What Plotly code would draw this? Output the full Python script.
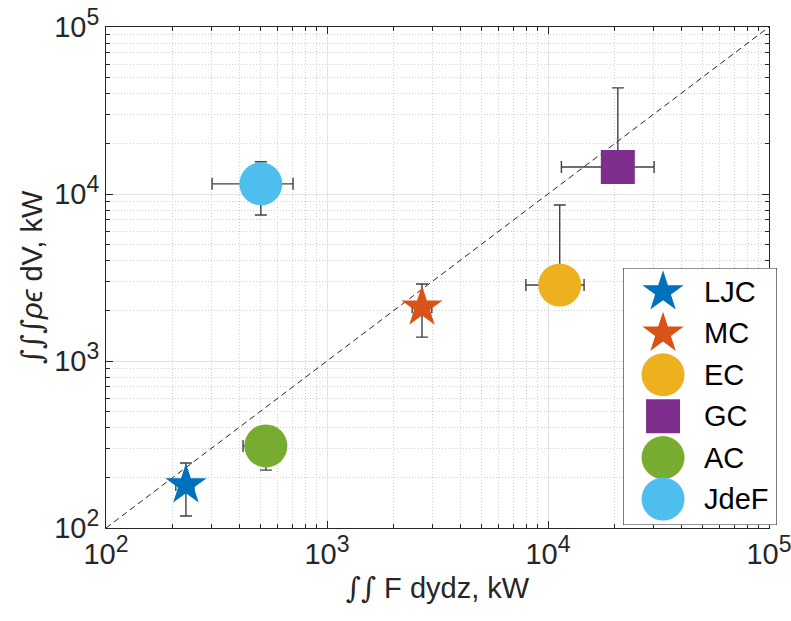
import plotly.graph_objects as go

# Measured power for each case (kW)
labels = ["LJC", "MC", "EC", "GC", "AC", "JdeF"]
flux = [230, 2690, 11300, 20700, 529, 502]          # ∬ F dydz
flux_lo = [207, 2430, 7940, 11500, 417, 302]
flux_hi = [250, 2980, 14560, 30200, 620, 702]
diss = [181, 2100, 2850, 14500, 310, 11500]         # ∭ ρϵ dV
diss_lo = [118, 1390, 2300, 12500, 222, 7480]
diss_hi = [245, 2890, 8590, 43200, 400, 15600]

colors = ["#0072BD", "#D95319", "#EDB120", "#7E2F8E", "#77AC30", "#4DBEEE"]
symbols = ["star", "star", "circle", "square", "circle", "circle"]
sizes = [31, 31, 43, 34, 43, 43]

decades = [100, 1000, 10000, 100000]
decade_text = ["10<sup><span style='font-size:23px'>%d</span></sup>" % e for e in (2, 3, 4, 5)]
minor_vals = [k * d for d in decades[:-1] for k in range(2, 10)]

FONT = "Liberation Sans, Arial, sans-serif"
SERIF = "DejaVu Serif, serif"
AX = "#262626"
INT = "<span style='font-family:%s'><i>∫</i></span>" % SERIF

fig = go.Figure()

# 1:1 reference line
fig.add_trace(go.Scatter(
    x=[decades[0], decades[-1]], y=[decades[0], decades[-1]], mode="lines",
    line=dict(color="#222222", width=1, dash="6px,4px"), showlegend=False, hoverinfo="skip"))

# error bars first so the markers sit on top of them
for i, name in enumerate(labels):
    fig.add_trace(go.Scatter(
        x=[flux[i]], y=[diss[i]], mode="markers",
        marker=dict(size=1, opacity=0), showlegend=False, hoverinfo="skip",
        error_x=dict(type="data", symmetric=False,
                     array=[flux_hi[i] - flux[i]], arrayminus=[flux[i] - flux_lo[i]],
                     color="#404040", thickness=1.4, width=6),
        error_y=dict(type="data", symmetric=False,
                     array=[diss_hi[i] - diss[i]], arrayminus=[diss[i] - diss_lo[i]],
                     color="#404040", thickness=1.4, width=6)))

for i, name in enumerate(labels):
    fig.add_trace(go.Scatter(
        x=[flux[i]], y=[diss[i]], mode="markers", name=name, showlegend=False,
        marker=dict(symbol=symbols[i], size=sizes[i], color=colors[i], line=dict(width=0))))

# legend panel drawn as its own small subplot above the main one
n = len(labels)
rows = [0.907 - k * (0.907 - 0.101) / (n - 1) for k in range(n)]
fig.add_trace(go.Scatter(
    x=[0, 1, 1, 0, 0], y=[0, 0, 1, 1, 0], xaxis="x2", yaxis="y2",
    mode="lines", fill="toself", fillcolor="white",
    line=dict(color="#262626", width=1.2), showlegend=False, hoverinfo="skip"))
for i, name in enumerate(labels):
    fig.add_trace(go.Scatter(
        x=[0.26], y=[rows[i]], xaxis="x2", yaxis="y2", mode="markers",
        marker=dict(symbol=symbols[i], size=sizes[i], color=colors[i], line=dict(width=0)),
        showlegend=False, hoverinfo="skip"))
    fig.add_annotation(x=0.51, y=rows[i], xref="x2", yref="y2", text=name,
                       showarrow=False, xanchor="left", yanchor="middle",
                       font=dict(family=FONT, size=29, color="black"))

axis_common = dict(
    type="log", range=[2, 5], tickvals=decades, ticktext=decade_text,
    ticks="inside", ticklen=7, tickwidth=1, tickcolor=AX,
    showline=True, linecolor=AX, linewidth=1, mirror="allticks",
    showgrid=True, gridcolor="#e3e3e3", gridwidth=1, zeroline=False,
    ticklabeloverflow="allow", automargin=False,
    tickfont=dict(family=FONT, size=29, color=AX),
    minor=dict(tickvals=minor_vals, ticks="inside", ticklen=4, tickcolor=AX,
               showgrid=True, gridcolor="#cdcdcd", griddash="1px,2px", gridwidth=1),
)

fig.update_layout(
    width=791, height=621,
    margin=dict(l=106, r=14, t=27, b=93, autoexpand=False),
    paper_bgcolor="white", plot_bgcolor="white",
    font=dict(family=FONT, color=AX),
    xaxis=dict(**axis_common, domain=[0, 663 / 671],
               title=dict(text=INT + INT + " F dydz, kW", standoff=8,
                          font=dict(family=FONT, size=29, color=AX))),
    yaxis=dict(**axis_common,
               title=dict(text=INT + INT + INT + "<i>ρϵ</i> dV, kW", standoff=2,
                          font=dict(family=FONT, size=29, color=AX))),
    xaxis2=dict(domain=[517 / 671, 1], range=[0, 1], anchor="y2",
                visible=False, fixedrange=True),
    yaxis2=dict(domain=[3 / 501, 260 / 501], range=[0, 1], anchor="x2",
                visible=False, fixedrange=True),
    showlegend=False,
)

fig.write_html("out.html")
